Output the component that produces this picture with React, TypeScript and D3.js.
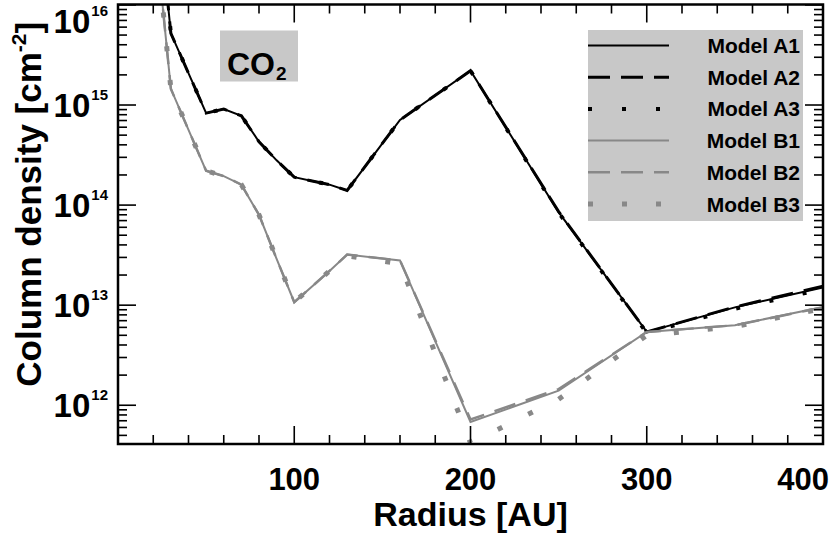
import React from 'react';
import * as d3 from 'd3';

// radii (AU) of the model grid
const radii = [20, 30, 50, 60, 70, 80, 90, 100, 120, 130, 160, 200, 250, 300, 350, 400];

// CO2 column densities [cm^-2]
const modelA1 = [3e17, 5.2e15, 8.3e14, 9.1e14, 7.8e14, 4.3e14, 2.8e14, 1.9e14, 1.6e14, 1.4e14, 7.1e14, 2.2e15, 8.5e13, 5.4e12, 9.5e12, 1.5e13];
const modelA2 = [3e17, 5.2e15, 8.3e14, 9.1e14, 7.8e14, 4.3e14, 2.8e14, 1.9e14, 1.6e14, 1.4e14, 7.1e14, 2.2e15, 8.6e13, 5.4e12, 9.6e12, 1.55e13];
const modelA3 = [3e17, 5.2e15, 8.3e14, 9.1e14, 7.8e14, 4.3e14, 2.8e14, 1.9e14, 1.6e14, 1.4e14, 7.1e14, 2.2e15, 8.4e13, 5.3e12, 9.2e12, 1.45e13];
const modelB1 = [8.7e16, 1.45e15, 2.2e14, 1.95e14, 1.6e14, 8e13, 2.9e13, 1.07e13, 2.2e13, 3.2e13, 2.8e13, 6.8e11, 1.4e12, 5.4e12, 6.3e12, 9.6e12];
const modelB2 = [8.7e16, 1.45e15, 2.2e14, 1.95e14, 1.6e14, 8e13, 2.9e13, 1.07e13, 2.2e13, 3.2e13, 2.8e13, 7.2e11, 1.45e12, 5.4e12, 6.3e12, 9.5e12];
const modelB3 = [8.7e16, 1.45e15, 2.2e14, 1.95e14, 1.6e14, 8e13, 2.9e13, 1.07e13, 2.2e13, 3.1e13, 2.6e13, 4.2e11, 1.15e12, 5.0e12, 6.1e12, 9.3e12];

const seriesNames = ['Model A1', 'Model A2', 'Model A3', 'Model B1', 'Model B2', 'Model B3'];
const seriesValues = [modelA1, modelA2, modelA3, modelB1, modelB2, modelB3];

const xMajorTicks = [100, 200, 300, 400];
const yDecades = [12, 13, 14, 15, 16];

const BLACK = '#000000';
const GRAY = '#888888';
const styles = [
  { color: BLACK, width: 2, dash: null },
  { color: BLACK, width: 3, dash: '22 11' },
  { color: BLACK, width: 4, dash: '4 30' },
  { color: GRAY, width: 2, dash: null },
  { color: GRAY, width: 2.5, dash: '22 11' },
  { color: GRAY, width: 5, dash: '5 29' },
];

const W = 830;
const H = 535;
const left = 118, right = 823, top = 4.5, bottom = 444;
const FONT = "'Liberation Sans', Arial, Helvetica, sans-serif";

export default function App() {
  const x = d3.scaleLinear().domain([0, 400]).range([left, right]);
  const y = d3.scaleLog().domain([4.1e11, 1.01e16]).range([bottom, top]);

  const line = d3.line<[number, number]>()
    .x(d => x(d[0]))
    .y(d => y(d[1]));

  const xMinor = d3.range(0, 401, 20).filter(t => !xMajorTicks.includes(t));
  const yMinor: number[] = [];
  [11, 12, 13, 14, 15].forEach(d => {
    for (let k = 2; k <= 9; k++) {
      const v = k * Math.pow(10, d);
      if (v >= y.domain()[0] && v <= y.domain()[1]) yMinor.push(v);
    }
  });

  const legendRow = (i: number) => 45.5 + i * 31.7;

  return (
    <div>
      <style>{'body{margin:0;background:#fff}'}</style>
      <svg width={W} height={H} style={{ display: 'block' }} fontFamily={FONT}>
        <defs>
          <clipPath id='plot-clip'>
            <rect x={left} y={top} width={right - left} height={bottom - top} />
          </clipPath>
        </defs>

        {/* CO2 label box */}
        <rect x={220} y={30.5} width={78} height={51} fill='#c8c8c8' />
        <text x={227} y={75} fontSize={32} fontWeight='bold'>
          CO<tspan fontSize={19} dx={1} dy={5}>2</tspan>
        </text>

        {/* Legend */}
        <rect x={588} y={30} width={215} height={191} fill='#c8c8c8' />
        {seriesNames.map((name, i) => (
          <g key={name}>
            <line
              x1={588}
              x2={669}
              y1={legendRow(i)}
              y2={legendRow(i)}
              stroke={styles[i].color}
              strokeWidth={styles[i].width}
              strokeDasharray={styles[i].dash || undefined}
            />
            <text x={800} y={legendRow(i) + 7.5} fontSize={21} fontWeight='bold' textAnchor='end'>
              {name}
            </text>
          </g>
        ))}

        {/* Curves */}
        <g clipPath='url(#plot-clip)'>
          {seriesValues.map((vals, i) => (
            <path
              key={seriesNames[i]}
              d={line(radii.map((r, j) => [r, vals[j]] as [number, number])) || ''}
              fill='none'
              stroke={styles[i].color}
              strokeWidth={styles[i].width}
              strokeDasharray={styles[i].dash || undefined}
              strokeLinejoin='miter'
            />
          ))}
        </g>

        {/* Axes frame */}
        <rect x={left} y={top} width={right - left} height={bottom - top} fill='none' stroke='#000' strokeWidth={2.5} />

        {/* X ticks (bottom and top) */}
        {xMajorTicks.concat(xMinor).map(t => {
          const len = xMajorTicks.includes(t) ? 18 : 9;
          return (
            <g key={'x' + t} stroke='#000' strokeWidth={1.6}>
              <line x1={x(t)} x2={x(t)} y1={bottom} y2={bottom - len} />
              <line x1={x(t)} x2={x(t)} y1={top} y2={top + len} />
            </g>
          );
        })}
        {xMajorTicks.map((t, i) => {
          const last = i === xMajorTicks.length - 1;
          return (
            <text
              key={'xl' + t}
              x={last ? 829 : x(t)}
              y={490}
              fontSize={31}
              fontWeight='bold'
              textAnchor={last ? 'end' : 'middle'}
            >
              {t}
            </text>
          );
        })}

        {/* Y ticks (left and right) */}
        {yDecades.map(d => Math.pow(10, d)).concat(yMinor).map(v => {
          const len = yMinor.includes(v) ? 9 : 18;
          return (
            <g key={'y' + v} stroke='#000' strokeWidth={1.6}>
              <line x1={left} x2={left + len} y1={y(v)} y2={y(v)} />
              <line x1={right} x2={right - len} y1={y(v)} y2={y(v)} />
            </g>
          );
        })}
        {yDecades.map(d => {
          const base = Math.max(y(Math.pow(10, d)) + 12, 33);
          return (
            <text key={'yl' + d} x={108} y={base} fontSize={33} fontWeight='bold' textAnchor='end'>
              10<tspan fontSize={15} dx={1} dy={-17}>{d}</tspan>
            </text>
          );
        })}

        {/* Axis titles */}
        <text x={(left + right) / 2} y={526} fontSize={34} fontWeight='bold' textAnchor='middle'>
          Radius [AU]
        </text>
        <text
          transform={`translate(41, ${(top + bottom) / 2 - 20}) rotate(-90)`}
          fontSize={35}
          fontWeight='bold'
          textAnchor='middle'
        >
          Column density [cm<tspan fontSize={21} dy={-15}>-2</tspan><tspan dy={15}>]</tspan>
        </text>
      </svg>
    </div>
  );
}
